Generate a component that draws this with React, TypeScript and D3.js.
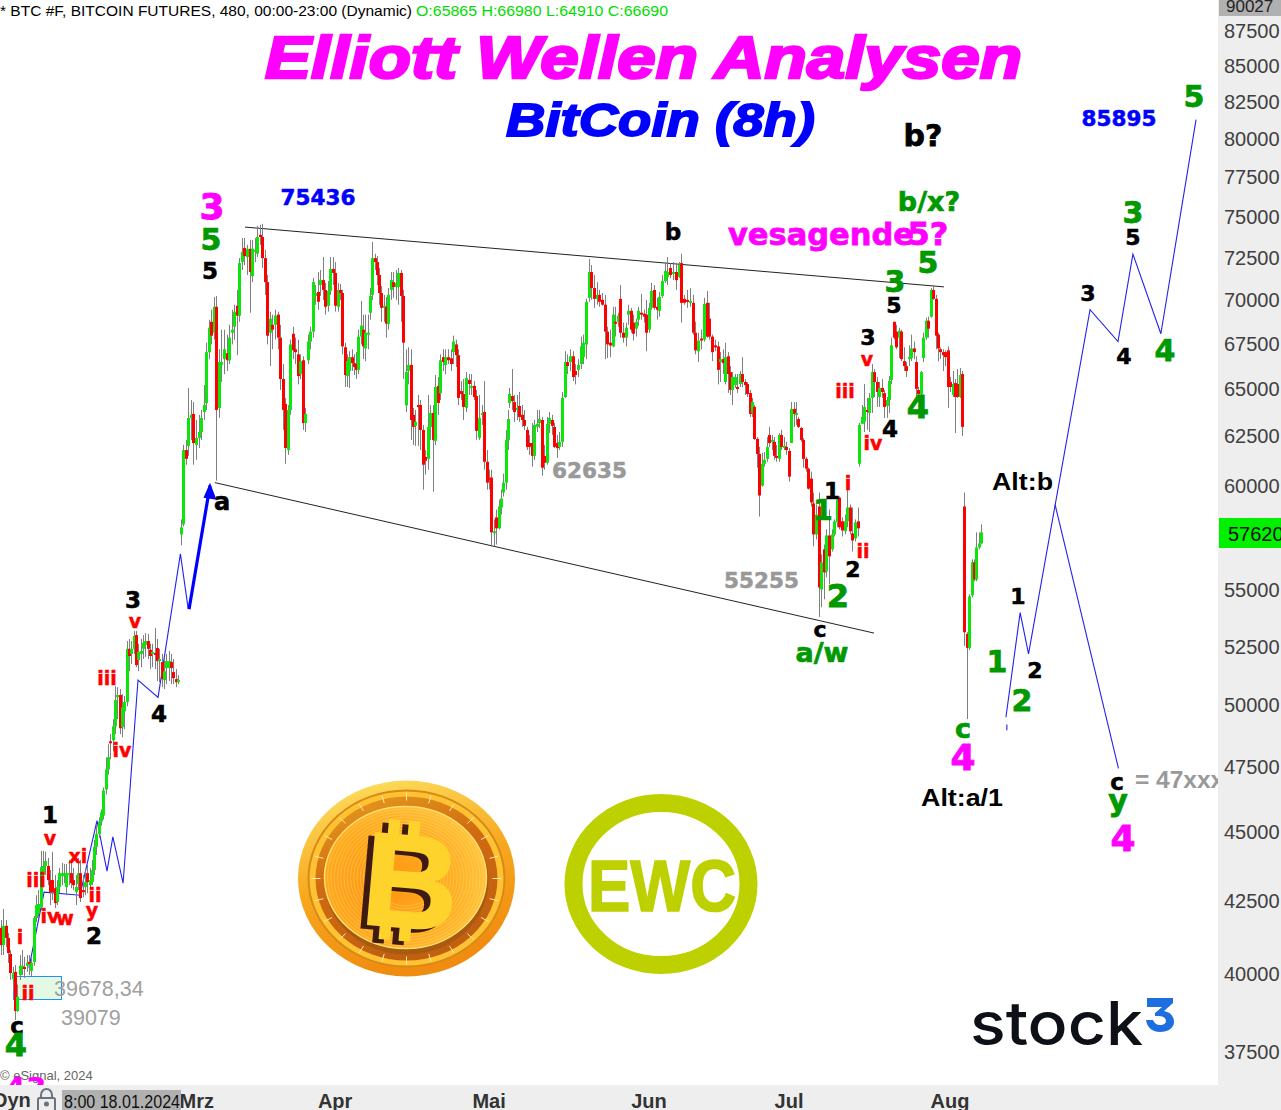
import React from "react";
import * as d3 from "d3";

type Bar = number[];
// [open, high, low, close], 8h candles
const barsJan: Bar[] = [
[41570,41840,40640,40980],[40980,42230,40640,41640],[41640,41840,40910,41220],[41220,41390,40380,40710],[40680,40810,39810,40040],[39840,40240,39380,40040],[40080,40310,38510,38800],[38800,39660,38770,39260],[39970,40640,39810,40280],[40240,40810,39970,40280],
[40240,40580,39880,40210],[40280,40640,40080,40380],[40410,40640,39970,40380],[40110,40550,39940,40380],[40410,41980,40280,41910],[41910,42710,41770,42360],[42080,42890,41910,42400],[42290,44310,42190,43720],[43430,44310,43250,43760],[43760,44280,43430,43940],
[43760,44050,43070,43250],[43250,43610,42360,42820],[43250,44280,42540,42820],[42960,43430,42260,42430],[42470,43250,42360,43000],[43000,43690,42780,43500],[43390,43870,43070,43500],[43470,43830,43140,43500],[43000,43830,42710,43500],[43430,43980,43070,43500],
[43500,43910,42960,43140],[43250,43690,42890,43070],[42820,43430,42360,43000],[43100,44050,42890,43500],[43500,43980,42470,42610],[42890,43430,42640,42820],[43000,43610,42710,43180],[43500,43830,42780,43180],[43070,43690,42890,43250],[43180,43980,43070,43610],
];
const barsFeb: Bar[] = [
[43610,44720,43430,44460],[44460,45290,44160,44940],[44940,45560,44790,45400],[45400,45860,45250,45750],[45630,46710,45480,46590],[46630,47890,46440,47410],[47410,48410,47210,47890],[48530,48820,47810,48450],[48570,49430,48130,49140],[49140,50800,48820,50220],
[50340,50760,49430,50430],[50430,50680,48820,49060],[49100,50470,48690,49920],[49750,50390,49020,50140],[50140,52740,49960,52400],[52400,52830,51440,52090],[52180,52740,51740,52400],[52400,53180,52180,52960],[53000,53180,51610,51700],[51920,52620,51440,52270],
[52180,52830,51610,52310],[52400,53000,51960,52660],[52570,53090,52050,52740],[52740,53050,51960,52400],[52360,52620,51530,52090],[52180,52620,51610,52270],[52220,53310,51530,52140],[52440,52830,51020,51870],[51870,52400,50970,51960],[51830,52180,50760,51100],
[51060,51960,50680,51440],[51570,52180,50890,51870],[51570,52310,51020,51870],[51830,52180,50890,51570],[51400,51960,50890,51140],[51100,51530,50760,50970],[50970,51270,50890,51060],
];
const barsMar: Bar[] = [
[57620,58340,57100,57960],[58100,62070,58000,61800],[61800,62320,61050,61350],[62010,65070,61500,63470],[63470,64420,62320,63630],[63680,64310,61050,62160],[62060,63360,61300,62420],[62420,63630,61900,62730],[62730,63890,62320,63470],[63780,65230,63360,64150],
[64250,67560,63890,67030],[67030,68860,66640,68400],[68740,69430,67460,67950],[68120,70170,67730,69600],[69600,70230,60250,63890],[63990,67190,63470,66480],[66320,68290,65390,66480],[66640,68290,65820,67190],[66970,68010,65990,66580],[66580,68570,66370,67840],
[68120,69430,67460,68290],[68460,69720,67730,69320],[69660,70580,66860,69090],[69090,72470,68740,72170],[72230,73690,71760,72850],[73090,73690,72050,72590],[72530,73270,71460,73030],[73030,73570,69260,71640],[71400,73570,71040,73030],[72850,73690,72230,72970],
[72730,74440,72530,73750],[73880,74500,73270,73750],[73750,74560,71880,72470],[72470,72970,70290,71040],[71040,71460,67460,67950],[68120,69320,66260,68920],[68570,69150,67190,68290],[68570,69430,67730,69090],[69150,69320,67190,67840],[67840,68570,64960,65550],
[65550,66370,62840,63890],[64210,64530,61100,61900],[61800,64150,61550,63890],[63890,67730,63630,67460],[68060,68460,66640,67130],[67190,67840,66370,67030],[66910,67730,65260,65710],[65820,66910,65550,66530],[66580,66800,62840,63200],[63200,64000,62730,63680],
];
const barsApr: Bar[] = [
[66580,68010,66370,67620],[67620,68460,67190,68180],[68180,71280,67840,71040],[70230,70870,69720,70400],[70460,71640,69430,69890],[70870,71760,70230,71160],[71160,72530,70000,70580],[70580,70990,69150,69600],[69660,71100,69320,70520],[70520,72530,70290,71820],
[71820,72530,70870,71580],[71580,72230,69320,69660],[69600,70990,69320,70580],[70580,70930,70000,70400],[70400,70580,66910,67350],[67300,67560,65120,65770],[65710,66910,65120,66530],[65990,67080,65070,66750],[66750,67190,65990,66420],[66420,66910,65770,66210],
[66370,67030,65550,66050],[66050,68290,65820,67900],[67900,69940,67460,68520],[68290,69150,66640,67350],[67240,69150,66530,68120],[68060,69150,67190,68120],[69260,70690,68860,70230],[70290,73450,70000,72470],[72470,72730,71760,72230],[72230,72590,70870,71460],
[71460,71880,69720,70400],[70400,70810,68740,69540],[69600,70290,68740,69660],[69600,70170,67840,68630],[68630,70690,68290,70290],[70580,71640,70000,71160],[71040,71640,70120,70750],[70750,71760,70000,70990],[70750,71880,69720,71580],[71580,71760,68740,70230],
[70230,70580,65550,67560],[64130,67190,63780,65930],[65990,67300,65260,66320],[66320,67190,62320,63360],[63630,64000,62060,63000],[63050,63890,62010,63260],[64150,64690,62010,64050],[64150,64420,61800,62840],[62840,63100,59800,61050],[61450,61800,60550,61250],
];
const barsMay: Bar[] = [
[61350,64690,60800,62990],[62990,64150,62320,63730],[63730,64150,59700,62320],[62270,65770,62060,65120],[65180,65660,63630,64260],[64790,66910,64420,66580],[66750,67190,65990,66480],[66320,67190,65820,66750],[66750,67190,66370,66580],[66690,67190,65990,66370],
[67030,67950,66370,67620],[67460,67730,66210,66860],[66860,67190,64150,64530],[64900,65440,64420,64740],[64740,65550,63360,64050],[64000,65930,63780,65600],[65500,65820,64690,65280],[65070,65820,64690,65180],[65180,65440,64420,64580],[64630,64960,62320,62790],
[62420,64690,62320,63470],[63630,64150,63100,63730],[63780,65440,60800,61200],[61200,61800,59800,60150],[60400,60800,59800,60300],[60400,60800,57050,57720],[57720,58340,57050,57770],[58440,58820,57140,57910],[57910,59310,57860,58970],[58920,59800,58580,59360],
[59660,60600,59460,60150],[60150,62840,59800,62320],[62320,63890,61800,63410],
[64260,65070,64000,64740],[64630,66100,63890,64360],[64310,64690,63260,63780],[63890,64690,63360,64000],[64100,64850,63260,63520],[63630,64150,63000,63360],[63360,63890,62840,63050],[62840,63000,61800,61960],[62160,62580,61550,61960],[62160,63210,60950,61500],[61500,63360,61300,63100],[63000,63890,62730,63160],[63200,63890,62940,63410],[63360,63520,60500,60900],[61500,62060,60800,61150],[61150,63520,61050,63160],[63160,63780,62680,63470],[63360,63630,62580,63050],[63000,63210,61900,61960],[62160,62580,61400,61900],[61960,62730,61800,62220],
[62220,64850,61960,64530],[64580,67080,64530,66480],[66480,66910,65820,66260],[66480,67190,65990,66800],[66800,67080,65440,65660],[65990,66370,65260,65770],[66050,66640,65660,66320],[66370,67900,66100,67350],[66750,68010,66370,67560],[67460,70060,66640,69890],
];
const barsJun: Bar[] = [
[70120,72410,69890,71640],[71640,72050,70000,70690],[70690,71460,69540,70060],[70060,71040,69720,70290],[70290,70580,69600,69890],[70000,70400,69660,69720],[69720,70290,66640,68180],[68180,68460,66700,67460],[67560,68290,66750,67400],[67350,69600,67300,69150],
[68740,69600,67900,68690],[68740,69260,68460,69090],[70060,70870,67840,68120],[68120,68690,67560,67840],[67840,68690,67350,68400],[69150,69720,68570,69370],[69370,69540,68120,68290],[68690,69150,67680,68060],[68350,68920,67900,68740],[68860,69600,68510,69370],
[69260,70350,68860,69150],[69200,69430,68690,69030],[69150,70000,67080,68120],[68290,69830,68120,69540],[69540,70990,69430,70520],[70580,70870,69430,69540],[69600,70120,68860,69430],[69370,70460,69030,70170],[70230,71460,70120,71100],[71100,72230,70990,71700],
[71340,72530,70870,71640],[71880,72170,71280,71460],[71580,72230,71160,71640],[71640,72170,70580,71160],[71340,72230,71280,72050],[72170,72730,68690,69830],[70060,70290,69720,69830],[70000,70580,69540,69890],[69830,70690,69600,69940],[69830,70290,68010,68120],
[68120,68740,66910,67130],[67080,68120,66480,67680],[67790,68290,67190,67680],[67730,70120,67620,69770],[69830,70520,67840,67900],[68920,69830,67730,67900],[67900,68010,66530,67030],[67410,67730,67080,67300],[67350,67620,65260,66050],[66480,67030,65390,66640],
[66640,67190,65820,66420],[65390,67560,65260,66750],[66800,67030,64800,65820],[65930,66260,64690,64960],[64960,65930,64150,65660],[65220,65820,65070,65660],[65120,65820,64800,65070],[65280,65990,65120,65820],[65820,66750,65120,65390],[65390,65550,64690,65220],
];
const barsJul: Bar[] = [
[65280,65390,64580,64740],[64790,64960,63520,63680],[63730,64530,63520,64310],[64050,64150,62320,62370],[62370,62470,60900,61600],[61600,61960,58480,59510],[60000,61650,59950,61100],[61100,61700,60950,61300],[61350,62470,61200,61960],[62580,63000,61960,62160],
[62220,62580,61800,62320],[62220,62470,61300,61500],[61500,62060,61200,61450],[61350,62680,61200,62580],[62580,62840,61800,61960],[61960,62470,61800,62010],[61960,62220,61550,61800],[61750,61900,60200,60450],[62160,64310,62160,63940],[63940,64310,63000,63680],
[63680,64310,63100,63730],[63410,63520,62940,63000],[62940,63000,62220,62320],[62320,62420,60900,61350],[61350,61450,60700,60850],[60850,60900,59800,59850],[60350,60700,58970,59170],
[59120,59660,57060,57620],[57620,59070,57380,58580],[58970,59660,53800,55140],[55050,56670,54240,56300],[56910,57140,54600,55830],[55880,57860,55600,57570],[57570,58820,55280,56580],[56910,57860,56810,57620],[57620,58340,57520,58250],[58200,59410,57960,59310],
[59410,59460,57860,57960],[58250,58440,57520,57810],[57770,58580,57620,58250],[58250,59900,57960,58920],[58920,59070,57620,57770],[57670,58920,56810,57330],[57430,58340,57280,58200],[58250,58920,57520,57910],
];
const barsLate: Bar[] = [
[61100,63210,60950,63100],[63160,64150,63160,63520],[63260,65280,62730,64050],[63890,64530,62840,63780],[63730,64790,62730,64530],[64530,66370,63730,65930],[65930,66100,64580,65390],[65390,65660,64050,64850],[64580,65390,64050,65070],[65070,65550,64530,64850],
[64790,64960,63470,64050],[64100,64580,63470,64420],[64420,65710,63730,65440],[65500,67840,65280,67410],[68740,68740,67730,67840],[68180,68570,67190,67300],[67840,68400,66700,68230],[68180,68290,66530,66640],[66530,67300,65990,66260],[66260,66480,65660,65990],
[66640,67410,66260,66750],[66700,68010,66530,67240],[67240,67620,66640,67030],[66480,66800,64530,65020],[64960,65120,64530,64740],[64740,65990,64310,65930],[66700,68120,66480,67840],[67840,68970,67730,68800],[68800,69030,67840,68350],[69030,70690,68970,70580],
[70580,70870,70000,70060],[70060,70290,67190,67950],[68010,68120,66530,67240],[67190,67300,66640,67030],[67030,67190,65990,66860],[67030,67130,66260,66750],[67130,67350,64000,65120],[65390,65660,64850,65120],[64690,65990,64580,65280],[65330,65550,62680,64580],
[65280,66100,64530,64580],[64580,66150,64530,65770],[65820,65990,62530,63000],
];
const barsAug: Bar[] = [
[58970,59660,52530,53130],[53050,53130,49430,52440],[52440,54830,52350,54730],[54780,56440,54690,56300],[56300,56440,55420,55510],[55510,57720,55420,57000],[57000,57720,56910,57190],[57190,58100,57140,57720],
];

const priceTicks = [87500,85000,82500,80000,77500,75000,72500,70000,67500,65000,62500,60000,55000,52500,50000,47500,45000,42500,40000,37500];
const monthLabels = ["Mrz","Apr","Mai","Jun","Jul","Aug"];
const monthSlots = [84,143.4,209.5,278.1,338.2,407.3];

// Elliott projections as [slot, price]
const waveEarly = [[12,40210],[18.5,42820],[33.9,42710],[41.2,45440],[45.5,43570],[48,44830],[52.4,43140],[58.8,51060],[67.4,50330],[77,56700],[80.3,54200]];
const waveArrow = [[80.7,54150],[89.7,60000]];
const waveStub = [[431.7,49210],[431.7,48980]];
const waveMain = [[431.3,49510],[437.4,54000],[441,52180],[467.4,69430],[479.4,67620],[485.8,72710],[497.8,68060],[512.9,81300]];
const waveBranch = [[452.4,59060],[479.6,47450]];
const trendUpper = [[104.7,74360],[404.7,70760]];
const trendLower = [[91.8,60150],[374.7,53090]];

const VERD = "'DejaVu Sans',sans-serif";
const ARIAL = "'Liberation Sans',Arial,sans-serif";
const BLACK = "#000", GRN = "#009900", MAG = "#ff00ff", RED = "#ff0000", BLU = "#0000ff", GRY = "#999999";

// text, centre x, baseline y, size, colour
const waveLabels: [string, number, number, number, string][] = [
["b",673,240,23,BLACK],["a",222,510,24,BLACK],["5",210,279,23,BLACK],["3",133,608,23,BLACK],["1",50,823,23,BLACK],["2",94,944,23,BLACK],["4",159,722,23,BLACK],["c",17,1034,23,BLACK],
["c",820,637,22,BLACK],["1",832,499,23,BLACK],["2",853,577,22,BLACK],["3",868,345,22,BLACK],["5",894,313,22,BLACK],["4",890,437,23,BLACK],["3",1088,301,22,BLACK],["5",1133,245,22,BLACK],["4",1124,364,22,BLACK],["1",1018,604,22,BLACK],["2",1035,678,22,BLACK],["c",1117,790,23,BLACK],["b?",923,146,30,BLACK],
["4",16,1056,32,GRN],["5",211,250,30,GRN],["1",823,520,28,GRN],["2",838,607,32,GRN],["3",895,292,30,GRN],["5",928,273,30,GRN],["4",918,418,32,GRN],["b/x?",929,211,27,GRN],["a/w",822,662,27,GRN],["1",997,672,30,GRN],["2",1022,711,30,GRN],["c",963,738,27,GRN],["3",1133,223,30,GRN],["4",1165,361,30,GRN],["5",1194,107,30,GRN],["y",1118,811,30,GRN],
["3",212,219,36,MAG],["vesagende",821,245,30.5,MAG],["5?",928,245,32,MAG],["4",963,770,36,MAG],["4",1123,851,36,MAG],
["iii",36,887,19,RED],["i",20,944,19,RED],["ii",28,1000,19,RED],["v",50,845,19,RED],["iv",50,923,19,RED],["w",65,925,19,RED],["xi",78,863,19,RED],["ii",95,902,19,RED],["y",92,917,19,RED],["iii",107,685,19,RED],["iv",122,757,19,RED],["v",135,628,19,RED],["i",848,490,19,RED],["ii",863,558,19,RED],["iii",845,398,19,RED],["iv",873,450,19,RED],["v",867,366,19,RED],
["75436",318,205,21.5,BLU],["85895",1119,126,21.5,BLU],["62635",589.5,478,21.5,GRY],["55255",761.5,588,21.5,GRY],
];

function Coin() {
  const cx = 406.5, cy = 878.5;
  const rings = d3.range(30, 74, 3);
  const ticks = d3.range(0, 360, 15);
  return (
    <g>
      <defs>
        <linearGradient id="coinOuter" x1="0" y1="0" x2="0.3" y2="1">
          <stop offset="0" stopColor="#ffe566" />
          <stop offset="0.55" stopColor="#f7a81e" />
          <stop offset="1" stopColor="#f08c10" />
        </linearGradient>
        <linearGradient id="coinRing" x1="0" y1="0" x2="0.4" y2="1">
          <stop offset="0" stopColor="#e8a020" />
          <stop offset="0.5" stopColor="#d06a10" />
          <stop offset="1" stopColor="#c06010" />
        </linearGradient>
        <radialGradient id="coinFace" cx="0.35" cy="0.55" r="0.75">
          <stop offset="0" stopColor="#ff9410" />
          <stop offset="0.6" stopColor="#ffae22" />
          <stop offset="1" stopColor="#ffcf48" />
        </radialGradient>
      </defs>
      <ellipse cx={cx} cy={cy} rx={108.5} ry={98} fill="url(#coinOuter)" />
      <ellipse cx={cx} cy={cy} rx={98} ry={88} fill="#ffc233" stroke="#d88a18" strokeWidth={2} />
      <ellipse cx={cx} cy={cy} rx={91} ry={82} fill="url(#coinRing)" />
      {ticks.map((a) => {
        const r = (a * Math.PI) / 180;
        return <line key={a} x1={cx + 86 * Math.cos(r)} y1={cy + 78 * Math.sin(r)} x2={cx + 95 * Math.cos(r)} y2={cy + 86 * Math.sin(r)} stroke="#ffe9a8" strokeWidth={1} />;
      })}
      <ellipse cx={cx} cy={cy + 2} rx={82} ry={74} fill="#a85a10" />
      <ellipse cx={cx - 1} cy={cy - 1} rx={81} ry={71} fill="url(#coinFace)" stroke="#ffe070" strokeWidth={1.5} />
      {rings.map((r) => (
        <ellipse key={r} cx={cx - 1} cy={cy - 1} rx={r * 1.08} ry={r * 0.95} fill="none" stroke="#ffdc78" strokeWidth={0.6} opacity={0.7} />
      ))}
      <g transform={`rotate(5 ${cx} ${cy + 2})`} fontFamily={ARIAL} fontWeight={700}>
        {[0, 1].map((k) => {
          const dx = k === 0 ? -6 : 0, dy = k === 0 ? 4 : 0;
          const fill = k === 0 ? "#3e1a10" : "#fdd32c";
          return (
            <g key={k} transform={`translate(${dx},${dy})`} fill={fill} stroke={fill} strokeWidth={2.5}>
              <rect x={385} y={822} width={9} height={24} />
              <rect x={405} y={822} width={9} height={24} />
              <rect x={385} y={918} width={9} height={22} />
              <rect x={405} y={918} width={9} height={22} />
              <text x={411} y={927} textAnchor="middle" fontSize={132}>B</text>
            </g>
          );
        })}
      </g>
    </g>
  );
}

export default function App() {
  const bars = [...barsJan, ...barsFeb, ...barsMar, ...barsApr, ...barsMay, ...barsJun, ...barsJul, ...barsLate, ...barsAug];
  const y = d3.scaleLog().domain([87500, 37500]).range([31, 1052]);
  const x = d3.scaleLinear()
    .domain([0, 76, 77, 100, 120, 140, 160, 180, 200, 209, 210, 229, 249, 269, 289, 309, 327, 328, 345, 346, 365, 388, 389, 396])
    .range([1, 178, 180.7, 239.3, 290.3, 340, 386, 435, 486.7, 508, 509.3, 556.7, 610, 661.7, 717.7, 766.7, 810.7, 813.3, 857.7, 859.3, 906.3, 962.3, 964.3, 981.3]);
  const slotX = d3.scaleLinear().domain([0, 500]).range([1, 1166]);
  const line = d3.line<number[]>().x((d) => slotX(d[0])).y((d) => y(d[1]));
  const px = (i: number) => Math.round(x(i)) + 0.5;

  return (
    <svg width={1281} height={1110} viewBox="0 0 1281 1110"
      style={{ position: "absolute", left: 0, top: 0, display: "block", background: "#fff" }} fontFamily={ARIAL}>
      <rect x={0} y={0} width={1281} height={1110} fill="#fff" />
      <text x={0} y={16} fontSize={15} fill="#000" textLength={412} lengthAdjust="spacingAndGlyphs">* BTC #F, BITCOIN FUTURES, 480, 00:00-23:00 (Dynamic)</text>
      <text x={416} y={16} fontSize={15} fill="#00dd00" textLength={252} lengthAdjust="spacingAndGlyphs">O:65865 H:66980 L:64910 C:66690</text>

      <text x={265} y={78} fontSize={60} fontWeight={700} fontStyle="italic" fill={MAG} stroke={MAG} strokeWidth={2.6} textLength={757} lengthAdjust="spacingAndGlyphs">Elliott Wellen Analysen</text>
      <text x={506} y={136} fontSize={47} fontWeight={700} fontStyle="italic" fill={BLU} stroke={BLU} strokeWidth={1.8} textLength={309} lengthAdjust="spacingAndGlyphs">BitCoin (8h)</text>

      <rect x={13.5} y={976.5} width={48} height={23} fill="#e4f9e4" stroke="#1e90ff" strokeWidth={1} />

      <path d={line(trendUpper)!} fill="none" stroke="#222" strokeWidth={1} />
      <path d={line(trendLower)!} fill="none" stroke="#222" strokeWidth={1} />
      {[waveEarly, waveStub, waveMain, waveBranch].map((w, i) => (
        <path key={i} d={line(w)!} fill="none" stroke="#2222ee" strokeWidth={1.1} />
      ))}
      <path d={line(waveArrow)!} fill="none" stroke={BLU} strokeWidth={3.2} />

      {bars.map((b, i) => (
        <line key={i} x1={px(i)} x2={px(i)} y1={y(b[1])} y2={y(b[2])} stroke="#7f7f7f" strokeWidth={1} />
      ))}
      {bars.map((b, i) => {
        const [o, , , c] = b;
        const top = y(Math.max(o, c));
        const bot = y(Math.min(o, c));
        return <rect key={i} x={px(i) - 1.5} y={top} width={3} height={Math.max(bot - top, 2)} fill={c >= o ? "#0ce60c" : "#ff0000"} />;
      })}
      <path d={`M${slotX(89.7)},${y(60000) - 3} l-6.5,15 l13,2 z`} fill={BLU} />

      {waveLabels.map(([t, lx, ly, s, col], i) => (
        <text key={i} x={lx} y={ly} fontSize={s} fill={col} stroke={col} strokeWidth={s * 0.025} fontWeight={700} fontFamily={VERD} textAnchor="middle">{t}</text>
      ))}
      <text x={992} y={490} fontSize={23} fontWeight={700} fill="#000" fontFamily={ARIAL} textLength={61} lengthAdjust="spacingAndGlyphs">Alt:b</text>
      <text x={921} y={806} fontSize={23} fontWeight={700} fill="#000" fontFamily={ARIAL} textLength={82} lengthAdjust="spacingAndGlyphs">Alt:a/1</text>
      <text x={54} y={996} fontSize={21.5} fill="#a0a0a0">39678,34</text>
      <text x={61} y={1025} fontSize={21.5} fill="#a0a0a0">39079</text>
      <text x={1135} y={788} fontSize={24.5} fontWeight={700} fill={GRY}>= 47xxx</text>
      <text x={0} y={1080} fontSize={13} fill="#666">© eSignal, 2024</text>
      <text x={5} y={1099} fontSize={30} fontWeight={700} fill={MAG} fontFamily={VERD}>43</text>

      <Coin />

      <ellipse cx={661} cy={884} rx={87.5} ry={81} fill="none" stroke="#bdd000" strokeWidth={18} />
      <text x={588} y={911} fontSize={72} fontWeight={700} fill="#bdd000" stroke="#bdd000" strokeWidth={1.6} fontFamily={ARIAL} textLength={148} lengthAdjust="spacingAndGlyphs">EWC</text>

      <text x={970} y={1045} fontSize={60} fontWeight={500} fill="#0d1117" fontFamily="Inter,'Liberation Sans',sans-serif" textLength={173} lengthAdjust="spacingAndGlyphs">stock</text>
      <path d="M1147,998 h26 v5 l-9,8 c6,1 10,5 10,11 c0,6 -6,10 -14,10 c-7,0 -13,-4 -14,-12 h7 c1,3 4,5 7,5 c4,0 6,-2 6,-4 c0,-3 -3,-5 -7,-5 h-4 v-3 l7,-6 h-15 z" fill="#1d6fe0" />

      <rect x={1218} y={0} width={63} height={1110} fill="#eeeeee" />
      <rect x={0} y={1085} width={1281} height={25} fill="#eeeeee" />
      {priceTicks.map((p) => (
        <text key={p} x={1224} y={y(p) + 7} fontSize={20} fill="#404040">{p}</text>
      ))}
      <rect x={1219} y={0} width={62} height={16} fill="#b0b0b0" />
      <text x={1226} y={12} fontSize={17} fill="#222">90027</text>
      <rect x={1219} y={518} width={62} height={30} fill="#00f000" />
      <text x={1228} y={541} fontSize={20} fill="#111">57620</text>

      <text x={-7} y={1107} fontSize={20} fontWeight={700} fill="#333">Dyn</text>
      <g fill="none" stroke="#6b7280" strokeWidth={2}>
        <path d="M41,1098 v-3 a5.5,6 0 0 1 11,0 v3" />
        <rect x={38} y={1098} width={17} height={13} rx={1.5} />
        <circle cx={46.5} cy={1104} r={1.5} fill="#6b7280" />
      </g>
      {monthLabels.map((m, i) => (
        <text key={m} x={slotX(monthSlots[i])} y={1108} fontSize={20} fontWeight={700} fill="#333" textAnchor="middle">{m}</text>
      ))}
      <rect x={62} y={1090} width={119} height={20} fill="#b0b0b0" />
      <text x={64} y={1108} fontSize={17.5} fill="#111" textLength={116} lengthAdjust="spacingAndGlyphs">8:00 18.01.2024</text>
    </svg>
  );
}
